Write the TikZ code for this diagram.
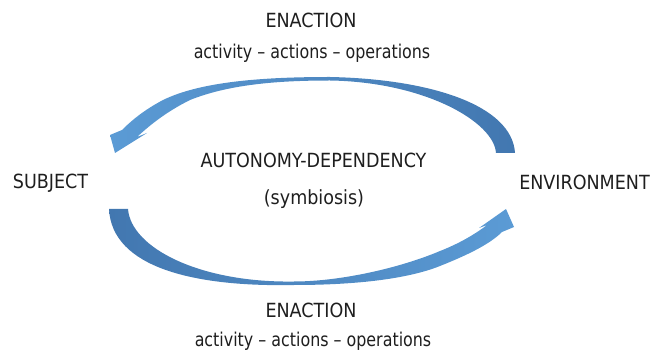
\documentclass[tikz,border=0pt]{standalone}
\usepackage{fontspec}
\setmainfont{DejaVu Sans Condensed}
\newfontfamily\narrowfont[FakeStretch=0.93]{DejaVu Sans Condensed}
\begin{document}
\begin{tikzpicture}[x=1pt,y=-1pt,
  lbl/.style={inner sep=0pt, text=txt, font=\fontsize{19.5}{22}\selectfont},
  sublbl/.style={inner sep=0pt, text=txt, font=\narrowfont\fontsize{19}{22}\selectfont},
  arrowfill/.style={draw=none}]
\definecolor{txt}{HTML}{1E1E1E}
\definecolor{light}{HTML}{5B9BD5}
\definecolor{dark}{HTML}{4277B0}
\useasboundingbox (0,0) rectangle (652,352);
% top curved arrow (tail right, head left)
\shade[arrowfill, left color=light, right color=dark]
  (496,153) -- (515,153)
  .. controls (512,105) and (430,79) .. (330,77)
  .. controls (260,77) and (200,82) .. (163,100)
  .. controls (148,108) and (135,117) .. (122,130)
  -- (110,135) -- (115,153) -- (147,133) -- (137,137)
  .. controls (150,125) and (166,112) .. (190,100)
  .. controls (230,84) and (280,80.5) .. (330,80.5)
  .. controls (425,82) and (494,122) .. (496,153) -- cycle;
% bottom curved arrow (tail left, head right)
\shade[arrowfill, left color=dark, right color=light]
  (128,209) -- (109,209)
  .. controls (112,268) and (195,287) .. (294,285)
  .. controls (350,285) and (405,280) .. (440,266)
  .. controls (465,256) and (489,245) .. (502,232)
  -- (514,227) -- (506,209) -- (479,228) -- (487,225)
  .. controls (474,235) and (458,244) .. (440,251)
  .. controls (400,268) and (340,281.5) .. (294,281.5)
  .. controls (200,283) and (131,248) .. (128,209) -- cycle;
% texts
\node[lbl, anchor=base] (en1) at (311,28) {ENACTION};
\node[sublbl, anchor=base] (act1) at (312,59) {activity – actions – operations};
\node[lbl, anchor=base] (auto) at (313.5,168) {AUTONOMY-DEPENDENCY};
\node[lbl, anchor=base] (sym) at (314,205) {(symbiosis)};
\node[lbl, anchor=base west] (subj) at (12.7,189) {SUBJECT};
\node[lbl, anchor=base east] (env) at (650,190) {ENVIRONMENT};
\node[lbl, anchor=base] (en2) at (311,317) {ENACTION};
\node[sublbl, anchor=base] (act2) at (313,346) {activity – actions – operations};
\end{tikzpicture}
\end{document}
